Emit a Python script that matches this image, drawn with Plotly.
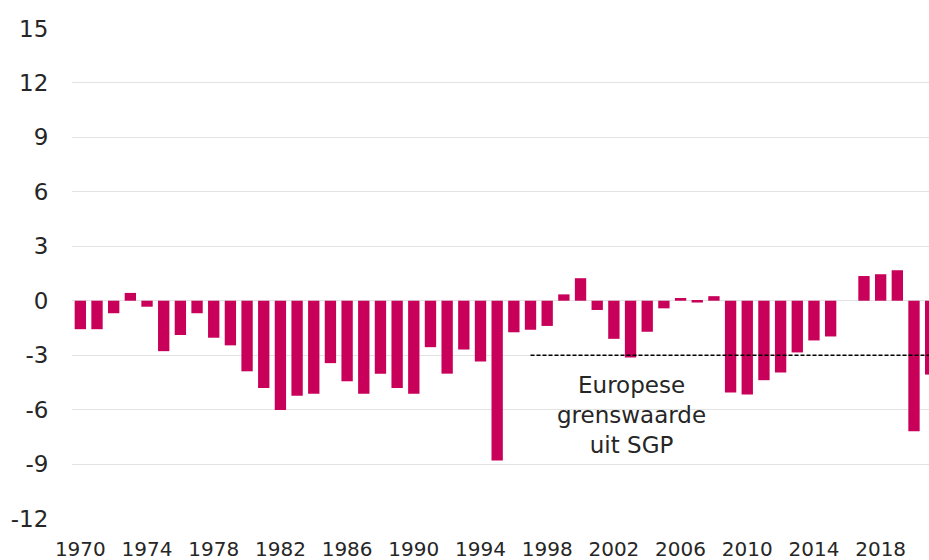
import plotly.graph_objects as go

years = list(range(1970, 2022))
balance = [
    -1.57, -1.57, -0.69, 0.43, -0.33, -2.78, -1.89, -0.69, -2.04, -2.46,   # 1970-1979
    -3.89, -4.81, -6.02, -5.24, -5.13, -3.44, -4.44, -5.13, -4.02, -4.81,  # 1980-1989
    -5.13, -2.56, -4.02, -2.69, -3.35, -8.80, -1.74, -1.60, -1.39, 0.35,   # 1990-1999
    1.24, -0.51, -2.10, -3.13, -1.71, -0.42, 0.15, -0.10, 0.25, -5.06,     # 2000-2009
    -5.17, -4.38, -3.96, -2.85, -2.19, -1.97, 0.0, 1.36, 1.46, 1.68,       # 2010-2019
    -7.20, -4.07,                                                          # 2020-2021
]
sgp_years = [1997, 2021]
sgp_limit = [-3, -3]
sgp_label = "Europese<br>grenswaarde<br>uit SGP"

x_ticks = list(range(1970, 2019, 4))
y_ticks = [-12, -9, -6, -3, 0, 3, 6, 9, 12, 15]
y_ticktext = [str(v) for v in y_ticks]

FONT = "DejaVu Sans"
BAR = "#C8005A"
TXT = "#262626"

fig = go.Figure()
fig.add_trace(go.Bar(x=years, y=balance, marker=dict(color=BAR, line=dict(width=0)),
                     showlegend=False, hoverinfo="x+y"))
fig.add_trace(go.Scatter(x=sgp_years, y=sgp_limit, mode="lines",
                         line=dict(color="#000000", width=1.5, dash="4px,2px"),
                         showlegend=False, cliponaxis=True))
fig.add_annotation(x=2003.05, y=-6.3, xref="x", yref="y", text=sgp_label,
                   showarrow=False, font=dict(family=FONT, size=23, color=TXT),
                   align="center")

fig.update_layout(
    width=929, height=560,
    margin=dict(l=72, r=0, t=28, b=41),
    paper_bgcolor="white", plot_bgcolor="white",
    bargap=0.32,
    font=dict(family=FONT, color=TXT),
    xaxis=dict(range=[1969.5, 2020.9], tickmode="array", tickvals=x_ticks,
               ticktext=[str(v) for v in x_ticks], showgrid=False, zeroline=False,
               showline=False, ticks="outside", ticklen=12, tickcolor="rgba(0,0,0,0)",
               tickfont=dict(family=FONT, size=20, color=TXT), automargin=False),
    yaxis=dict(range=[-12.03, 15.03], tickmode="array", tickvals=y_ticks,
               ticktext=y_ticktext, showgrid=True, gridcolor="#E3E3E3", gridwidth=1,
               zeroline=True, zerolinecolor="#E3E3E3", zerolinewidth=1,
               showline=False, ticks="outside", ticklen=18, tickcolor="rgba(0,0,0,0)",
               tickfont=dict(family=FONT, size=23, color=TXT), automargin=False),
)

fig.write_html(
    "out.html",
    config={"displayModeBar": False},
    post_script="document.body.style.margin='0';document.body.style.overflow='hidden';",
)
